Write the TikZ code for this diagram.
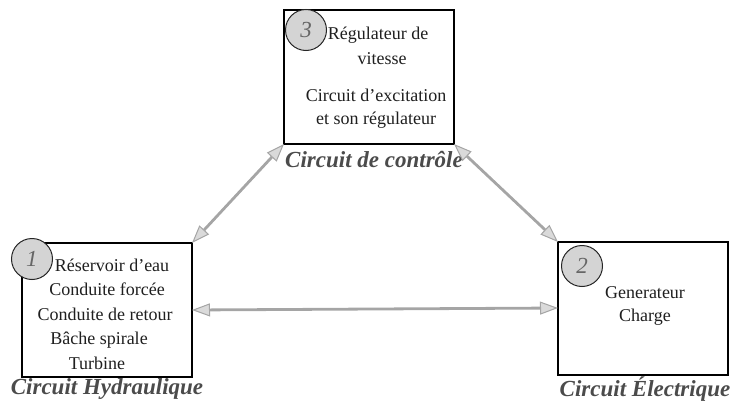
\documentclass[tikz,border=0pt]{standalone}
\usepackage{fontspec}
\setmainfont{Liberation Serif}
\usetikzlibrary{arrows.meta}
\definecolor{linkgray}{RGB}{165,165,165}
\definecolor{headgray}{RGB}{218,218,218}
\definecolor{badgegray}{RGB}{212,212,212}
\definecolor{labelgray}{RGB}{75,75,75}
\tikzset{
  block/.style={draw=black, line width=1.8pt, fill=white},
  badge/.style={circle, draw=black!85, line width=1pt, fill=badgegray, minimum size=41pt, inner sep=0pt,
                font=\fontsize{23}{23}\selectfont\itshape, text=black!60},
  item/.style={font=\fontsize{18}{18}\selectfont, text=black!88, inner sep=0pt, text height=12.5pt, text depth=4pt},
  caption/.style={font=\fontsize{23}{23}\selectfont\bfseries\itshape, text=labelgray, inner sep=0pt},
  link/.style={draw=linkgray, line width=2.8pt,
    {Triangle[length=18pt,width=13pt,fill=headgray,line width=1pt]}-{Triangle[length=18pt,width=13pt,fill=headgray,line width=1pt]}}
}
\begin{document}
\begin{tikzpicture}[x=1pt,y=-1pt]
\useasboundingbox (0,0) rectangle (734,402);

% control block
\draw[block] (284,10) rectangle (454,144);
\coordinate (cBL) at (284,144);
\coordinate (cBR) at (454,144);
\node[badge] (b3) at (306,30) {3};
\node[item] (t3a) at (378,35) {Régulateur de};
\node[item] (t3b) at (382,60) {vitesse};
\node[item] (t3c) at (376,97) {Circuit d’excitation};
\node[item] (t3d) at (376,120) {et son régulateur};
\node[caption] (c3) at (374,160) {Circuit de contrôle};

% hydraulic block
\draw[block] (22,243) rectangle (192,377);
\coordinate (hTR) at (192,243);
\coordinate (hR) at (192,310);
\node[badge] (b1) at (32,259) {1};
\node[item] (t1a) at (112,267) {Réservoir d’eau};
\node[item] (t1b) at (107,291) {Conduite forcée};
\node[item] (t1c) at (105,316) {Conduite de retour};
\node[item] (t1d) at (99,340) {Bâche spirale};
\node[item] (t1e) at (97,365) {Turbine};
\node[caption] (c1) at (107,389) {Circuit Hydraulique};

% electrical block
\draw[block] (558,242) rectangle (728,375);
\coordinate (eTL) at (558,242);
\coordinate (eL) at (558,308);
\node[badge] (b2) at (582,266) {2};
\node[item] (t2a) at (645,294) {Generateur};
\node[item] (t2b) at (645,317) {Charge};
\node[caption] (c2) at (645,389) {Circuit Électrique};

% links between blocks
\draw[link] (hTR) -- (cBL);
\draw[link] (cBR) -- (eTL);
\draw[link] (hR) -- (eL);
\end{tikzpicture}
\end{document}
